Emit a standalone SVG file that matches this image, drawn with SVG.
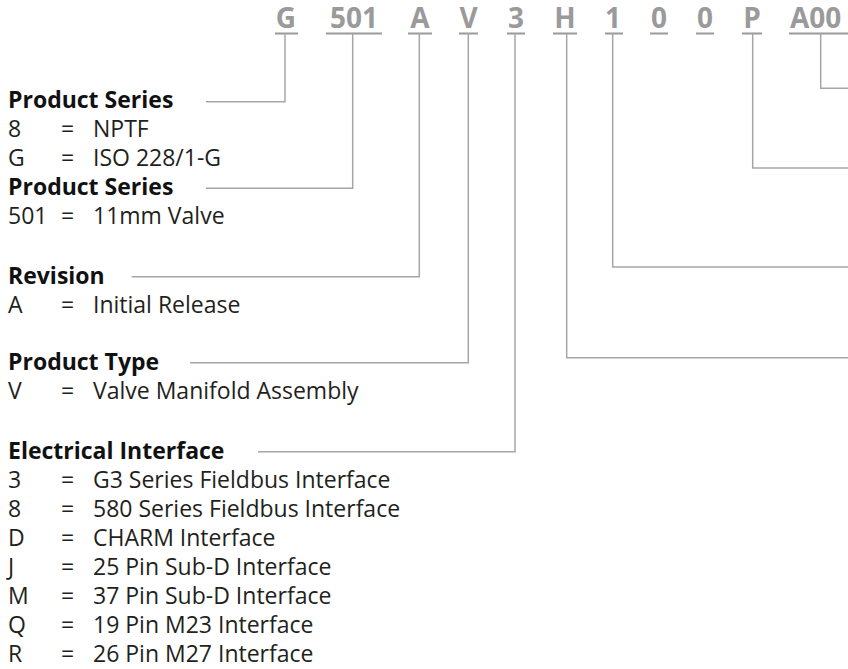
<svg xmlns="http://www.w3.org/2000/svg" width="848" height="669" viewBox="0 0 848 669">
<style>
.code{font-family:"Open Sans",sans-serif;font-weight:700;font-size:28px;fill:#9a9a9b;text-anchor:middle}
.h{font-family:"Open Sans",sans-serif;font-weight:700;font-size:23px;fill:#111}
.t{font-family:"Open Sans",sans-serif;font-size:23px;fill:#231f20}
.ul{stroke:#9a9a9b;stroke-width:2;fill:none}
.c{stroke:#a6a6a6;stroke-width:1.5;fill:none}
</style>
<rect width="848" height="669" fill="#fff"/>
<g id="code">
<text class="code" x="286" y="27.5">G</text>
<text class="code" x="354" y="27.5">501</text>
<text class="code" x="420" y="27.5">A</text>
<text class="code" x="468.5" y="27.5">V</text>
<text class="code" x="516" y="27.5">3</text>
<text class="code" x="565" y="27.5">H</text>
<text class="code" x="613" y="27.5">1</text>
<text class="code" x="659" y="27.5">0</text>
<text class="code" x="705" y="27.5">0</text>
<text class="code" x="752" y="27.5">P</text>
<text class="code" x="790" y="27.5" style="text-anchor:start">A00</text>
<path class="ul" d="M275 33.5H298M326 33.5H382M408 33.5H432M459 33.5H478M507 33.5H525M553 33.5H577M605 33.5H623M650 33.5H668M696 33.5H714M742 33.5H762M789 33.5H848"/>
</g>
<g id="connectors">
<path class="c" d="M285 33.5V101.7H206"/>
<path class="c" d="M352.7 33.5V188.3H206"/>
<path class="c" d="M419.3 33.5V276.7H131.7"/>
<path class="c" d="M468.3 33.5V362.7H190"/>
<path class="c" d="M515 33.5V451.7H258"/>
<path class="c" d="M566.7 33.5V357.7H848"/>
<path class="c" d="M612.7 33.5V267H848"/>
<path class="c" d="M752.7 33.5V168H848"/>
<path class="c" d="M820.7 33.5V88.3H848"/>
</g>
<g id="product-series">
<text class="h" x="8" y="108">Product Series</text>
<text class="t" x="8" y="137">8</text><text class="t" x="61" y="137">=</text><text class="t" x="93" y="137">NPTF</text>
<text class="t" x="8" y="166">G</text><text class="t" x="61" y="166">=</text><text class="t" x="93" y="166">ISO 228/1-G</text>
</g>
<g id="product-series-2">
<text class="h" x="8" y="195">Product Series</text>
<text class="t" x="8" y="224">501</text><text class="t" x="61" y="224">=</text><text class="t" x="93" y="224">11mm Valve</text>
</g>
<g id="revision">
<text class="h" x="8" y="283.7">Revision</text>
<text class="t" x="8" y="312.7">A</text><text class="t" x="61" y="312.7">=</text><text class="t" x="93" y="312.7">Initial Release</text>
</g>
<g id="product-type">
<text class="h" x="8" y="369.7">Product Type</text>
<text class="t" x="8" y="398.7">V</text><text class="t" x="61" y="398.7">=</text><text class="t" x="93" y="398.7">Valve Manifold Assembly</text>
</g>
<g id="electrical-interface">
<text class="h" x="8" y="458.7">Electrical Interface</text>
<text class="t" x="8" y="487.7">3</text><text class="t" x="61" y="487.7">=</text><text class="t" x="93" y="487.7">G3 Series Fieldbus Interface</text>
<text class="t" x="8" y="516.7">8</text><text class="t" x="61" y="516.7">=</text><text class="t" x="93" y="516.7">580 Series Fieldbus Interface</text>
<text class="t" x="8" y="545.7">D</text><text class="t" x="61" y="545.7">=</text><text class="t" x="93" y="545.7">CHARM Interface</text>
<text class="t" x="8" y="574.7">J</text><text class="t" x="61" y="574.7">=</text><text class="t" x="93" y="574.7">25 Pin Sub-D Interface</text>
<text class="t" x="8" y="603.7">M</text><text class="t" x="61" y="603.7">=</text><text class="t" x="93" y="603.7">37 Pin Sub-D Interface</text>
<text class="t" x="8" y="632.7">Q</text><text class="t" x="61" y="632.7">=</text><text class="t" x="93" y="632.7">19 Pin M23 Interface</text>
<text class="t" x="8" y="661.7">R</text><text class="t" x="61" y="661.7">=</text><text class="t" x="93" y="661.7">26 Pin M27 Interface</text>
</g>
</svg>
